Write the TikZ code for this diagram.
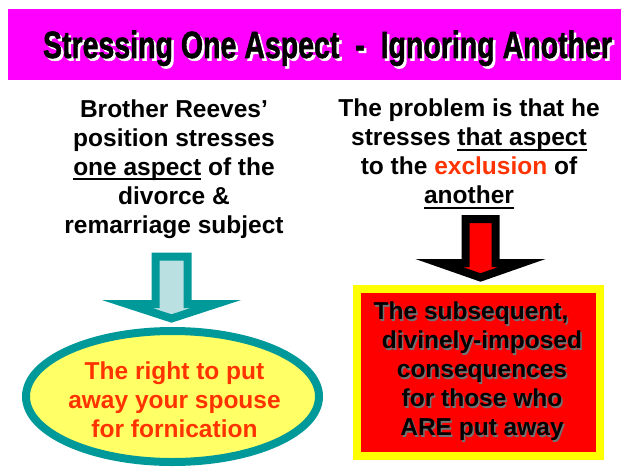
\documentclass[tikz,border=0pt]{standalone}
\usepackage{fontspec}
\setmainfont{Liberation Sans}
\newfontfamily\titlefont[FakeBold=1.5]{Liberation Sans Bold}
\newcommand\undl[1]{\setbox0\hbox{#1}\rlap{\rule[-5pt]{\wd0}{2pt}}\box0\relax}
\usetikzlibrary{calc}
\usetikzlibrary{shapes}
\definecolor{SlideMagenta}{HTML}{FF00FF}
\definecolor{SlideTeal}{HTML}{009999}
\definecolor{SlideIce}{HTML}{BAE0E2}
\definecolor{SlidePaleYellow}{HTML}{FFFF66}
\definecolor{SlideYellow}{HTML}{FFFF00}
\definecolor{SlideOrange}{HTML}{FF3300}
\definecolor{SlideRed}{HTML}{FF0000}

\begin{document}
\begin{tikzpicture}[x=1pt,y=-1pt]
    \tikzstyle{body}=[font=\fontsize{24.5}{29}\selectfont\bfseries, align=center, inner sep=0]
    \tikzstyle{headline}=[font=\titlefont\fontsize{38}{38}\selectfont, inner sep=0, anchor=base]
    \tikzstyle{tealarrow}=[draw=SlideTeal, fill=SlideIce, line width=8pt, line join=miter]
    \tikzstyle{redarrow}=[draw=black, fill=SlideRed, line width=8pt, line join=miter]

    \useasboundingbox (0,0) rectangle (636,468);

    % banner
    \node[fill=SlideMagenta, minimum width=613, minimum height=71, inner sep=0] (banner) at (314.5,44.5) {};

    \coordinate (title_c) at (327.5,58);
    \node[headline, white] (title_shadow) at ($(title_c)+(2.5,2.5)$) {\resizebox{569pt}{\height}{Stressing One Aspect\ \ -\ \ Ignoring Another}};
    \node[headline] (title) at (title_c) {\resizebox{569pt}{\height}{Stressing One Aspect\ \ -\ \ Ignoring Another}};

    % left statement
    \node[body, anchor=north] (stress) at (174,99.5) {Brother Reeves’\\position stresses\\\undl{one aspect} of the\\divorce \&\\remarriage subject};

    % right statement
    \node[body, anchor=north] (problem) at (469,99) {The problem is that he\\stresses \undl{that aspect}\\to the \textcolor{SlideOrange}{exclusion} of\\\undl{another}};

    % emphasised aspect
    \node[ellipse, draw=SlideTeal, fill=SlidePaleYellow, line width=8pt, minimum width=293, minimum height=131, inner sep=0] (put_away) at (172.5,396.5) {};
    \node[body, SlideOrange, anchor=north] (put_away_txt) at (174.5,362) {The right to put\\away your spouse\\for fornication};

    % ignored aspect
    \node[rectangle, draw=SlideYellow, fill=SlideRed, line width=8pt, minimum width=243, minimum height=167.5, inner sep=0] (conseq) at (478,372.25) {};
    \coordinate (conseq_c) at (482,302);
    \node[body, black!55, anchor=north] (conseq_shadow) at ($(conseq_c)+(1.5,1.5)$) {The subsequent,\hbox{\kern22pt}\\divinely-imposed\\consequences\\for those who\\ARE put away};
    \node[body, anchor=north] (conseq_txt) at (conseq_c) {The subsequent,\hbox{\kern22pt}\\divinely-imposed\\consequences\\for those who\\ARE put away};

    % left arrow
    \coordinate (larrow_top) at (171.5,256.5);
    \coordinate (larrow_tip) at (171.5,318.5);
    \draw[tealarrow] ($(larrow_top)+(-16,0)$) -- ($(larrow_top)+(16,0)$) -- ($(larrow_top)+(16,47.5)$) -- ($(larrow_top)+(44.5,47.5)$) -- (larrow_tip) -- ($(larrow_top)+(-44.5,47.5)$) -- ($(larrow_top)+(-16,47.5)$) -- cycle;

    % right arrow
    \coordinate (rarrow_top) at (480.5,219);
    \coordinate (rarrow_tip) at (480.5,277.5);
    \draw[redarrow] ($(rarrow_top)+(-15,0)$) -- ($(rarrow_top)+(15,0)$) -- ($(rarrow_top)+(15,44)$) -- ($(rarrow_top)+(41.5,44)$) -- (rarrow_tip) -- ($(rarrow_top)+(-41.5,44)$) -- ($(rarrow_top)+(-15,44)$) -- cycle;

\end{tikzpicture}
\end{document}
